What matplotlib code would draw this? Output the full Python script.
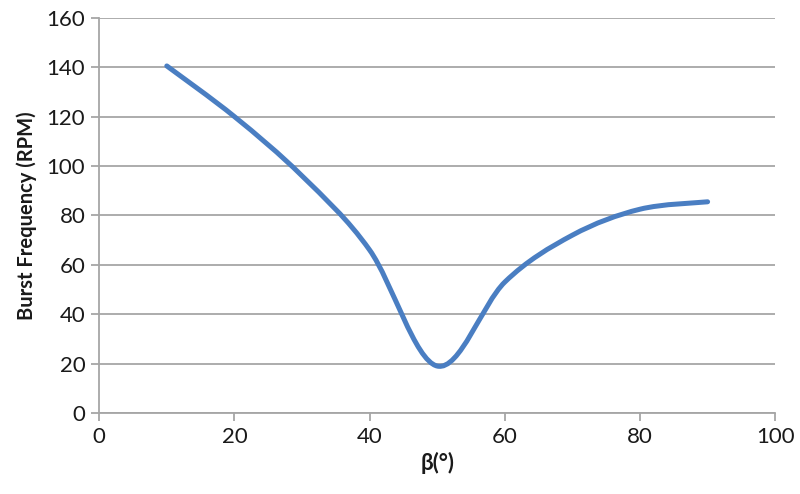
import matplotlib
matplotlib.use("Agg")
import matplotlib.pyplot as plt
from matplotlib.path import Path
from matplotlib.patches import PathPatch

beta = [10, 20, 30, 40, 50, 60, 70, 80, 90]
freq = [140.5, 120, 96, 66, 19, 53, 72, 82.5, 85.5]
x_ticks = [0, 20, 40, 60, 80, 100]
y_ticks = [0, 20, 40, 60, 80, 100, 120, 140, 160]

plt.rcParams['font.family'] = ['Lato', 'DejaVu Sans']

fig = plt.figure(figsize=(8, 4.94), dpi=100)
ax = fig.add_axes([0.124, 0.164, 0.845, 0.800])

# Excel-style smoothed line (cubic Bezier, Catmull-Rom control points)
pts = list(zip(beta, freq))
verts = [pts[0]]
codes = [Path.MOVETO]
n = len(pts)
for i in range(n - 1):
    p0 = pts[i - 1] if i > 0 else pts[i]
    p1 = pts[i]
    p2 = pts[i + 1]
    p3 = pts[i + 2] if i + 2 < n else pts[i + 1]
    c1 = (p1[0] + (p2[0] - p0[0]) / 6.0, p1[1] + (p2[1] - p0[1]) / 6.0)
    c2 = (p2[0] - (p3[0] - p1[0]) / 6.0, p2[1] - (p3[1] - p1[1]) / 6.0)
    verts += [c1, c2, p2]
    codes += [Path.CURVE4, Path.CURVE4, Path.CURVE4]
path = Path(verts, codes)
patch = PathPatch(path, facecolor='none', edgecolor='#4A7EC2', lw=3.6,
                  capstyle='round', joinstyle='round', transform=ax.transData, zorder=3)
ax.add_patch(patch)

ax.set_xlim(0, 100)
ax.set_ylim(0, 160)
ax.set_xticks(x_ticks)
ax.set_yticks(y_ticks)
ax.set_xticklabels([str(v) for v in x_ticks])
ax.set_yticklabels([str(v) for v in y_ticks])

grid_c = '#A6A6A6'
ax.yaxis.grid(True, color=grid_c, lw=1.3)
ax.set_axisbelow(True)
for s in ['top', 'right']:
    ax.spines[s].set_visible(False)
for s in ['left', 'bottom']:
    ax.spines[s].set_color(grid_c)
    ax.spines[s].set_linewidth(1.3)
ax.tick_params(axis='both', direction='out', length=6, width=1.3, color=grid_c,
               labelsize=16, labelcolor='#1a1a1a', pad=4)

ax.set_xlabel('β(°)', fontsize=16, fontweight='bold', color='#1a1a1a', labelpad=4)
ax.set_ylabel('Burst Frequency (RPM)', fontsize=14.5, fontweight='bold', color='#1a1a1a', labelpad=7)

fig.savefig('out.png', dpi=100)
